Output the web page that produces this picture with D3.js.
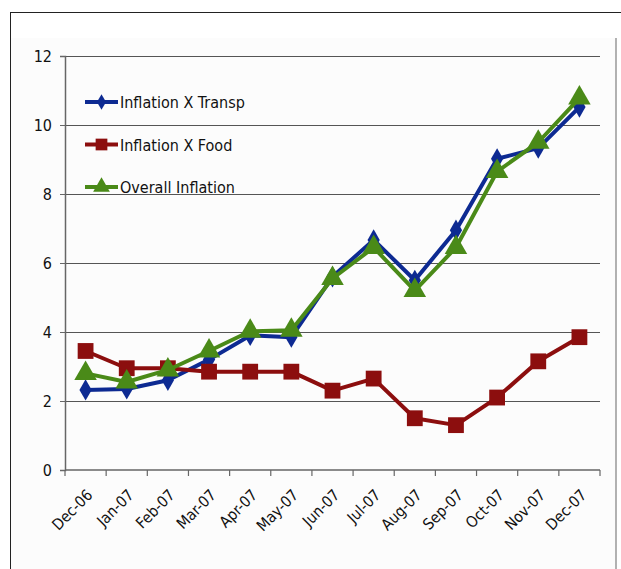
<!DOCTYPE html>
<html>
<head>
<meta charset="utf-8">
<script src="https://cdn.jsdelivr.net/npm/d3@7"></script>
<style>
body { margin: 0; background: #fff; }
svg text { font-family: "Liberation Sans Narrow", "Arial Narrow", "DejaVu Sans Condensed", sans-serif; fill: #111; }
</style>
</head>
<body>
<svg id="chart" width="621" height="569"></svg>
<script>
var months = ["Dec-06", "Jan-07", "Feb-07", "Mar-07", "Apr-07", "May-07", "Jun-07", "Jul-07", "Aug-07", "Sep-07", "Oct-07", "Nov-07", "Dec-07"];
var transp = [2.32, 2.35, 2.6, 3.2, 3.9, 3.85, 5.6, 6.67, 5.5, 6.95, 9.02, 9.33, 10.52];
var food = [3.45, 2.95, 2.95, 2.85, 2.85, 2.85, 2.3, 2.65, 1.5, 1.3, 2.1, 3.15, 3.85];
var overall = [2.8, 2.55, 2.9, 3.45, 4.02, 4.05, 5.55, 6.45, 5.2, 6.45, 8.65, 9.5, 10.78];
var yTicks = [0, 2, 4, 6, 8, 10, 12];

var series = [
	{name: "Inflation X Transp", values: transp, color: "#0d2a92", shape: d3.symbolDiamond},
	{name: "Inflation X Food", values: food, color: "#8c0e0e", shape: d3.symbolSquare},
	{name: "Overall Inflation", values: overall, color: "#4a8a18", shape: d3.symbolTriangle}
];

var svg = d3.select("#chart");

// frame
svg.append("rect").attr("x", 10).attr("y", 38).attr("width", 606).attr("height", 540).attr("fill", "#fcfcfc").attr("stroke", "none");
svg.append("line").attr("x1", 616).attr("x2", 616).attr("y1", 38).attr("y2", 569).attr("stroke", "#999").attr("stroke-width", 1.5);
svg.append("line").attr("x1", 10).attr("x2", 621).attr("y1", 12.5).attr("y2", 12.5).attr("stroke", "#222").attr("stroke-width", 1);
svg.append("line").attr("x1", 10.5).attr("x2", 10.5).attr("y1", 12).attr("y2", 569).attr("stroke", "#222").attr("stroke-width", 1);

var plotL = 65, plotR = 600, plotT = 56, plotB = 470;
var x = d3.scaleBand().domain(months).range([plotL, plotR]);
var y = d3.scaleLinear().domain([0, 12]).range([plotB, plotT]);

// grid
svg.append("g").selectAll("line").data(yTicks.filter(function (d) { return d > 0; })).join("line")
	.attr("x1", plotL).attr("x2", plotR)
	.attr("y1", function (d) { return Math.round(y(d)) + 0.5; }).attr("y2", function (d) { return Math.round(y(d)) + 0.5; })
	.attr("stroke", "#555").attr("stroke-width", 1.2);

// y axis
var yAxis = svg.append("g").attr("transform", "translate(" + plotL + ",0)")
	.call(d3.axisLeft(y).tickValues(yTicks).tickSize(5).tickPadding(8).tickFormat(d3.format("d")));
yAxis.select(".domain").attr("stroke", "#666").attr("stroke-width", 1.5);
yAxis.selectAll(".tick line").attr("stroke", "#666");
yAxis.selectAll("text").style("font-size", "16px").attr("fill", "#111");

// x axis
var xAxis = svg.append("g").attr("transform", "translate(0," + plotB + ")");
xAxis.append("line").attr("x1", plotL).attr("x2", plotR).attr("y1", 0).attr("y2", 0).attr("stroke", "#666").attr("stroke-width", 1.5);
xAxis.selectAll("line.tk").data(months.concat(["end"])).join("line").attr("class", "tk")
	.attr("x1", function (d, i) { return plotL + i * x.bandwidth(); })
	.attr("x2", function (d, i) { return plotL + i * x.bandwidth(); })
	.attr("y1", 0).attr("y2", 6).attr("stroke", "#666").attr("stroke-width", 1.2);
xAxis.selectAll("text").data(months).join("text")
	.attr("text-anchor", "end")
	.attr("transform", function (d) { return "translate(" + (x(d) + x.bandwidth() / 2 + 8) + ",26) rotate(-45)"; })
	.style("font-size", "15.5px")
	.text(function (d) { return d; });

// lines and markers
var line = d3.line().x(function (d, i) { return x(months[i]) + x.bandwidth() / 2; }).y(function (d) { return y(d); });
var sizes = [130, 250, 220];
series.forEach(function (s, k) {
	svg.append("path").datum(s.values).attr("d", line).attr("fill", "none").attr("stroke", s.color).attr("stroke-width", 4).attr("stroke-linejoin", "round");
	svg.append("g").selectAll("path").data(s.values).join("path")
		.attr("transform", function (d, i) { return "translate(" + (x(months[i]) + x.bandwidth() / 2) + "," + y(d) + ")"; })
		.attr("d", d3.symbol().type(s.shape).size(sizes[k]))
		.attr("fill", s.color);
});

// legend
var legend = svg.append("g").attr("transform", "translate(85,102)");
series.forEach(function (s, k) {
	var g = legend.append("g").attr("transform", "translate(0," + (k * 42.5) + ")");
	g.append("line").attr("x1", 0).attr("x2", 33).attr("y1", 0).attr("y2", 0).attr("stroke", s.color).attr("stroke-width", 4);
	g.append("path").attr("transform", "translate(16.5,0)").attr("d", d3.symbol().type(s.shape).size(sizes[k] * 0.55)).attr("fill", s.color);
	g.append("text").attr("x", 35).attr("y", 6).style("font-size", "16px").text(s.name);
});
</script>
</body>
</html>
